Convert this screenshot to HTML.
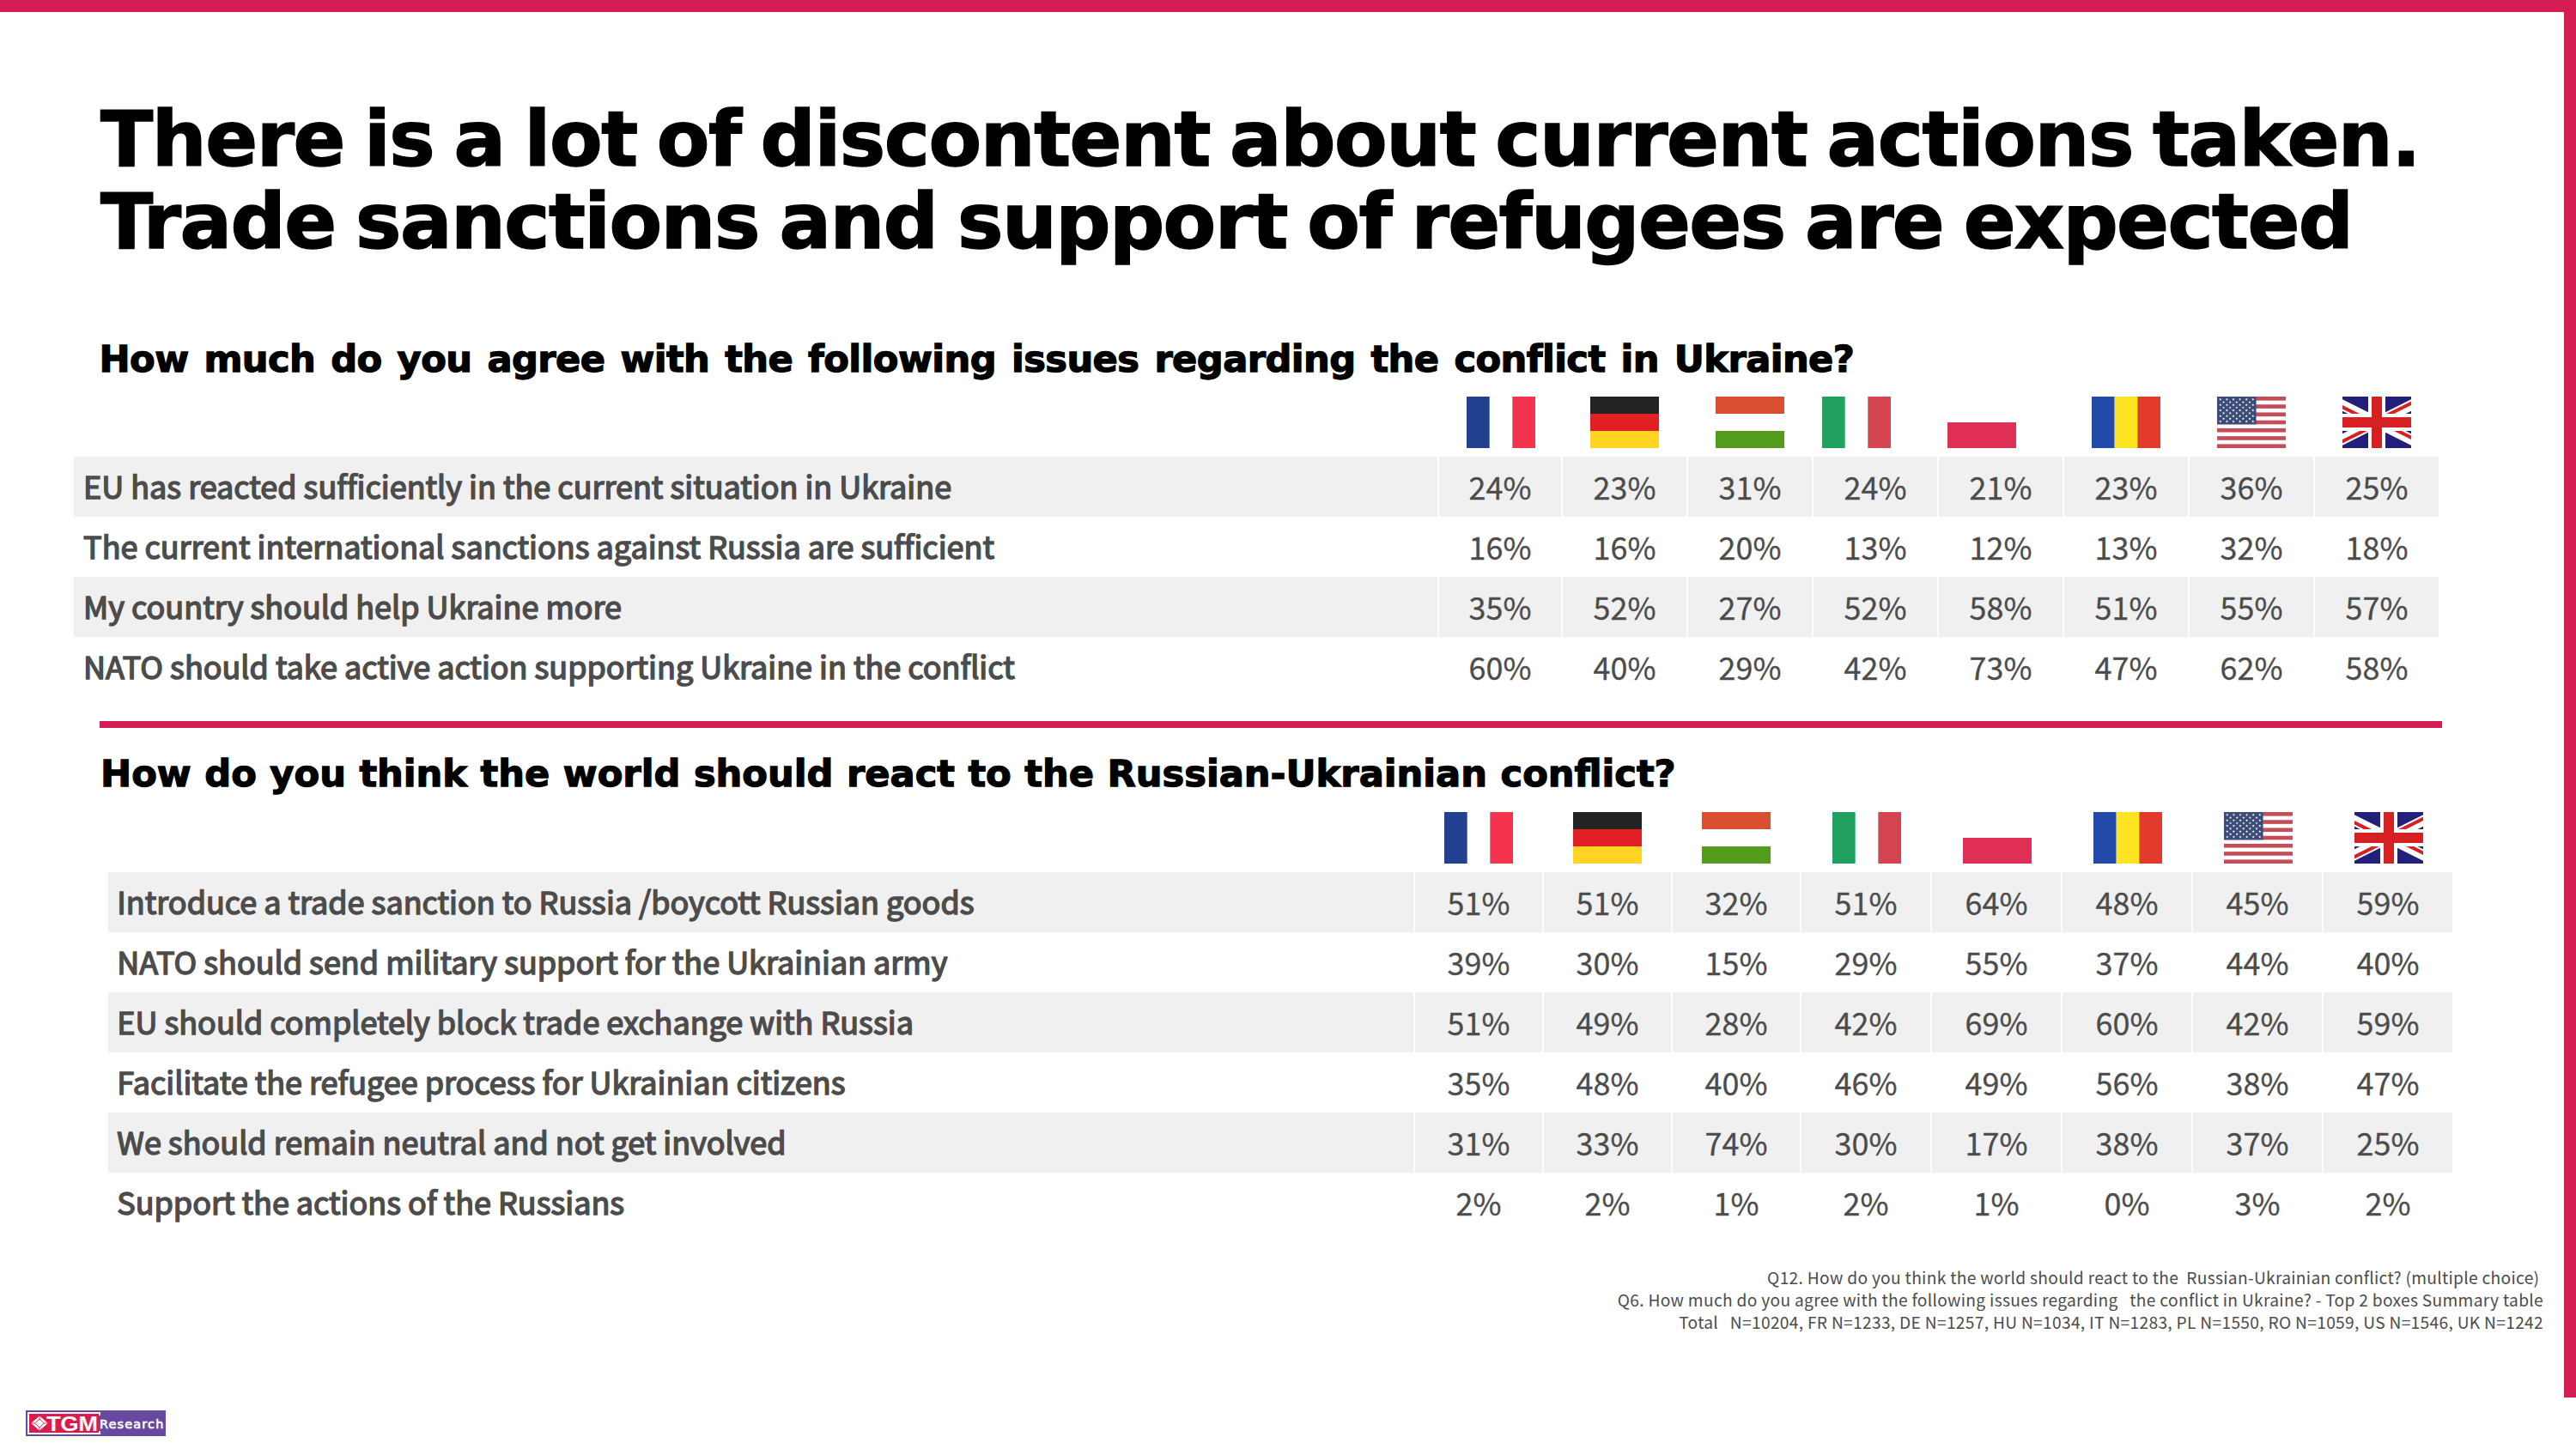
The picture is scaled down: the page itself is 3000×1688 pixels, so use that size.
<!DOCTYPE html>
<html lang="en"><head><meta charset="utf-8"><title>There is a lot of discontent about current actions taken</title>
<style>
html,body{margin:0;padding:0;background:#ffffff}
body{width:3000px;height:1688px;position:relative;overflow:hidden;font-family:"Noto Sans CJK SC","Liberation Sans",sans-serif;color:#4c4c4c}
.bar{position:absolute;background:#d41d52}
.title{position:absolute;left:117px;top:0;margin:0;font-family:"DejaVu Sans","Liberation Sans",sans-serif;font-weight:700;color:#000000;white-space:nowrap}
.t1{font-size:89.8px;line-height:96px;letter-spacing:-3.01px;-webkit-text-stroke:1.5px #000000}
.sub{font-size:43.2px;line-height:56px;letter-spacing:-0.02px;-webkit-text-stroke:1.3px #000000}
.flag{position:absolute;display:block}
.row{position:absolute;left:0;width:3000px;height:70px}
.row>div{position:absolute;top:0;height:70px;line-height:70px;white-space:nowrap}
.row.g>div{background:#f0f0f0}
.lab{font-weight:400;font-size:36px;letter-spacing:-0.02px;-webkit-text-stroke:1.5px #4c4c4c}
.lab span{position:relative;left:11.1px;top:-2.1px}
.num{text-align:center;font-weight:400;font-size:35.9px;-webkit-text-stroke:0.3px #4c4c4c}
.num span{position:relative;top:-1px}
.t2 .lab span{left:10.3px}
.foot{position:absolute;right:38px;top:1474.7px;text-align:right;font-size:19.2px;line-height:26.1px;white-space:pre;letter-spacing:0.3px}

.logo{position:absolute;left:30px;top:1643px;width:163px;height:30px;background:#6849a1;overflow:hidden}
.logo .frame{position:absolute;left:1.7px;top:1.7px;width:85.4px;height:26.6px;background:#ffffff}
.logo .redbox{position:absolute;left:4px;top:3.9px;width:80.8px;height:22.1px;background:#dc1a4b}
.logo .gap{position:absolute;left:84.8px;top:5.6px;width:3px;height:18.6px;background:#6849a1}
.logo .tgm{position:absolute;left:24.2px;top:0.8px;line-height:30px;font-family:"Liberation Sans",sans-serif;font-weight:700;font-size:23px;letter-spacing:-0.3px;transform:scaleX(1.19);transform-origin:0 50%;color:#ffffff;white-space:nowrap}
.logo .res{position:absolute;left:85.9px;top:0.9px;line-height:30px;font-family:"DejaVu Sans","Liberation Sans",sans-serif;font-weight:400;font-size:14.4px;letter-spacing:1.2px;-webkit-text-stroke:0.6px #ffffff;color:#ffffff;white-space:nowrap}
.logo svg{position:absolute;left:4.6px;top:5.45px}
</style></head><body>

<div class="bar" style="left:0;top:0;width:3000px;height:14px"></div>
<div class="bar" style="left:2986px;top:0;width:14px;height:1628px"></div>
<h1 class="title t1" style="top:113.9px"><span style="letter-spacing:-1.463px;word-spacing:-6.73px">There is a lot of discontent about current actions taken.</span><br><span style="letter-spacing:-1.583px;word-spacing:-6.11px">Trade sanctions and support of refugees are expected</span></h1>
<h2 class="title sub" style="top:390px;left:115.5px;letter-spacing:-0.576px;word-spacing:3.5px">How much do you agree with the following issues regarding the conflict in Ukraine?</h2>
<svg class="flag" style="left:1708px;top:462px" width="80" height="60" viewBox="0 0 80 60"><rect width="26.67" height="60" fill="#21418f"/><rect x="53.33" width="26.67" height="60" fill="#f4344c"/></svg>
<svg class="flag" style="left:1852px;top:462px" width="80" height="60" viewBox="0 0 80 60"><rect width="80" height="20" fill="#222222"/><rect y="20" width="80" height="20" fill="#e11f24"/><rect y="40" width="80" height="20" fill="#ffd422"/></svg>
<svg class="flag" style="left:1998px;top:462px" width="80" height="60" viewBox="0 0 80 60"><rect width="80" height="20" fill="#d94f31"/><rect y="40" width="80" height="20" fill="#529b1f"/></svg>
<svg class="flag" style="left:2122px;top:462px" width="80" height="60" viewBox="0 0 80 60"><rect width="26.67" height="60" fill="#20a15f"/><rect x="53.33" width="26.67" height="60" fill="#d54550"/></svg>
<svg class="flag" style="left:2268px;top:462px" width="80" height="60" viewBox="0 0 80 60"><rect y="30" width="80" height="30" fill="#e02f55"/></svg>
<svg class="flag" style="left:2436px;top:462px" width="80" height="60" viewBox="0 0 80 60"><rect width="26.67" height="60" fill="#214aa9"/><rect x="26.67" width="26.67" height="60" fill="#ffe422"/><rect x="53.33" width="26.67" height="60" fill="#e33a2e"/></svg>
<svg class="flag" style="left:2582px;top:462px" width="80" height="60" viewBox="0 0 80 60"><g fill="#c44d59"><rect x="0" y="0.000" width="80" height="4.615"/><rect x="0" y="9.231" width="80" height="4.615"/><rect x="0" y="18.462" width="80" height="4.615"/><rect x="0" y="27.692" width="80" height="4.615"/><rect x="0" y="36.923" width="80" height="4.615"/><rect x="0" y="46.154" width="80" height="4.615"/><rect x="0" y="55.385" width="80" height="4.615"/></g><rect width="45.6" height="32.31" fill="#3c4b78"/><path d="M3.8,1.5L4.2,2.7L5.5,2.7L4.4,3.4L4.8,4.6L3.8,3.9L2.8,4.6L3.2,3.4L2.1,2.7L3.4,2.7ZM11.4,1.5L11.8,2.7L13.1,2.7L12.0,3.4L12.4,4.6L11.4,3.9L10.4,4.6L10.8,3.4L9.7,2.7L11.0,2.7ZM19.0,1.5L19.4,2.7L20.7,2.7L19.6,3.4L20.0,4.6L19.0,3.9L18.0,4.6L18.4,3.4L17.3,2.7L18.6,2.7ZM26.6,1.5L27.0,2.7L28.3,2.7L27.2,3.4L27.6,4.6L26.6,3.9L25.6,4.6L26.0,3.4L24.9,2.7L26.2,2.7ZM34.2,1.5L34.6,2.7L35.9,2.7L34.8,3.4L35.2,4.6L34.2,3.9L33.2,4.6L33.6,3.4L32.5,2.7L33.8,2.7ZM41.8,1.5L42.2,2.7L43.5,2.7L42.4,3.4L42.8,4.6L41.8,3.9L40.8,4.6L41.2,3.4L40.1,2.7L41.4,2.7ZM7.6,4.7L8.0,5.9L9.3,5.9L8.2,6.7L8.6,7.9L7.6,7.1L6.6,7.9L7.0,6.7L5.9,5.9L7.2,5.9ZM15.2,4.7L15.6,5.9L16.9,5.9L15.8,6.7L16.2,7.9L15.2,7.1L14.2,7.9L14.6,6.7L13.5,5.9L14.8,5.9ZM22.8,4.7L23.2,5.9L24.5,5.9L23.4,6.7L23.8,7.9L22.8,7.1L21.8,7.9L22.2,6.7L21.1,5.9L22.4,5.9ZM30.4,4.7L30.8,5.9L32.1,5.9L31.0,6.7L31.4,7.9L30.4,7.1L29.4,7.9L29.8,6.7L28.7,5.9L30.0,5.9ZM38.0,4.7L38.4,5.9L39.7,5.9L38.6,6.7L39.0,7.9L38.0,7.1L37.0,7.9L37.4,6.7L36.3,5.9L37.6,5.9ZM3.8,7.9L4.2,9.2L5.5,9.2L4.4,9.9L4.8,11.1L3.8,10.4L2.8,11.1L3.2,9.9L2.1,9.2L3.4,9.2ZM11.4,7.9L11.8,9.2L13.1,9.2L12.0,9.9L12.4,11.1L11.4,10.4L10.4,11.1L10.8,9.9L9.7,9.2L11.0,9.2ZM19.0,7.9L19.4,9.2L20.7,9.2L19.6,9.9L20.0,11.1L19.0,10.4L18.0,11.1L18.4,9.9L17.3,9.2L18.6,9.2ZM26.6,7.9L27.0,9.2L28.3,9.2L27.2,9.9L27.6,11.1L26.6,10.4L25.6,11.1L26.0,9.9L24.9,9.2L26.2,9.2ZM34.2,7.9L34.6,9.2L35.9,9.2L34.8,9.9L35.2,11.1L34.2,10.4L33.2,11.1L33.6,9.9L32.5,9.2L33.8,9.2ZM41.8,7.9L42.2,9.2L43.5,9.2L42.4,9.9L42.8,11.1L41.8,10.4L40.8,11.1L41.2,9.9L40.1,9.2L41.4,9.2ZM7.6,11.2L8.0,12.4L9.3,12.4L8.2,13.1L8.6,14.3L7.6,13.6L6.6,14.3L7.0,13.1L5.9,12.4L7.2,12.4ZM15.2,11.2L15.6,12.4L16.9,12.4L15.8,13.1L16.2,14.3L15.2,13.6L14.2,14.3L14.6,13.1L13.5,12.4L14.8,12.4ZM22.8,11.2L23.2,12.4L24.5,12.4L23.4,13.1L23.8,14.3L22.8,13.6L21.8,14.3L22.2,13.1L21.1,12.4L22.4,12.4ZM30.4,11.2L30.8,12.4L32.1,12.4L31.0,13.1L31.4,14.3L30.4,13.6L29.4,14.3L29.8,13.1L28.7,12.4L30.0,12.4ZM38.0,11.2L38.4,12.4L39.7,12.4L38.6,13.1L39.0,14.3L38.0,13.6L37.0,14.3L37.4,13.1L36.3,12.4L37.6,12.4ZM3.8,14.4L4.2,15.6L5.5,15.6L4.4,16.4L4.8,17.6L3.8,16.8L2.8,17.6L3.2,16.4L2.1,15.6L3.4,15.6ZM11.4,14.4L11.8,15.6L13.1,15.6L12.0,16.4L12.4,17.6L11.4,16.8L10.4,17.6L10.8,16.4L9.7,15.6L11.0,15.6ZM19.0,14.4L19.4,15.6L20.7,15.6L19.6,16.4L20.0,17.6L19.0,16.8L18.0,17.6L18.4,16.4L17.3,15.6L18.6,15.6ZM26.6,14.4L27.0,15.6L28.3,15.6L27.2,16.4L27.6,17.6L26.6,16.8L25.6,17.6L26.0,16.4L24.9,15.6L26.2,15.6ZM34.2,14.4L34.6,15.6L35.9,15.6L34.8,16.4L35.2,17.6L34.2,16.8L33.2,17.6L33.6,16.4L32.5,15.6L33.8,15.6ZM41.8,14.4L42.2,15.6L43.5,15.6L42.4,16.4L42.8,17.6L41.8,16.8L40.8,17.6L41.2,16.4L40.1,15.6L41.4,15.6ZM7.6,17.6L8.0,18.8L9.3,18.8L8.2,19.6L8.6,20.8L7.6,20.1L6.6,20.8L7.0,19.6L5.9,18.8L7.2,18.8ZM15.2,17.6L15.6,18.8L16.9,18.8L15.8,19.6L16.2,20.8L15.2,20.1L14.2,20.8L14.6,19.6L13.5,18.8L14.8,18.8ZM22.8,17.6L23.2,18.8L24.5,18.8L23.4,19.6L23.8,20.8L22.8,20.1L21.8,20.8L22.2,19.6L21.1,18.8L22.4,18.8ZM30.4,17.6L30.8,18.8L32.1,18.8L31.0,19.6L31.4,20.8L30.4,20.1L29.4,20.8L29.8,19.6L28.7,18.8L30.0,18.8ZM38.0,17.6L38.4,18.8L39.7,18.8L38.6,19.6L39.0,20.8L38.0,20.1L37.0,20.8L37.4,19.6L36.3,18.8L37.6,18.8ZM3.8,20.9L4.2,22.1L5.5,22.1L4.4,22.8L4.8,24.0L3.8,23.3L2.8,24.0L3.2,22.8L2.1,22.1L3.4,22.1ZM11.4,20.9L11.8,22.1L13.1,22.1L12.0,22.8L12.4,24.0L11.4,23.3L10.4,24.0L10.8,22.8L9.7,22.1L11.0,22.1ZM19.0,20.9L19.4,22.1L20.7,22.1L19.6,22.8L20.0,24.0L19.0,23.3L18.0,24.0L18.4,22.8L17.3,22.1L18.6,22.1ZM26.6,20.9L27.0,22.1L28.3,22.1L27.2,22.8L27.6,24.0L26.6,23.3L25.6,24.0L26.0,22.8L24.9,22.1L26.2,22.1ZM34.2,20.9L34.6,22.1L35.9,22.1L34.8,22.8L35.2,24.0L34.2,23.3L33.2,24.0L33.6,22.8L32.5,22.1L33.8,22.1ZM41.8,20.9L42.2,22.1L43.5,22.1L42.4,22.8L42.8,24.0L41.8,23.3L40.8,24.0L41.2,22.8L40.1,22.1L41.4,22.1ZM7.6,24.1L8.0,25.3L9.3,25.3L8.2,26.1L8.6,27.3L7.6,26.5L6.6,27.3L7.0,26.1L5.9,25.3L7.2,25.3ZM15.2,24.1L15.6,25.3L16.9,25.3L15.8,26.1L16.2,27.3L15.2,26.5L14.2,27.3L14.6,26.1L13.5,25.3L14.8,25.3ZM22.8,24.1L23.2,25.3L24.5,25.3L23.4,26.1L23.8,27.3L22.8,26.5L21.8,27.3L22.2,26.1L21.1,25.3L22.4,25.3ZM30.4,24.1L30.8,25.3L32.1,25.3L31.0,26.1L31.4,27.3L30.4,26.5L29.4,27.3L29.8,26.1L28.7,25.3L30.0,25.3ZM38.0,24.1L38.4,25.3L39.7,25.3L38.6,26.1L39.0,27.3L38.0,26.5L37.0,27.3L37.4,26.1L36.3,25.3L37.6,25.3ZM3.8,27.3L4.2,28.5L5.5,28.5L4.4,29.3L4.8,30.5L3.8,29.7L2.8,30.5L3.2,29.3L2.1,28.5L3.4,28.5ZM11.4,27.3L11.8,28.5L13.1,28.5L12.0,29.3L12.4,30.5L11.4,29.7L10.4,30.5L10.8,29.3L9.7,28.5L11.0,28.5ZM19.0,27.3L19.4,28.5L20.7,28.5L19.6,29.3L20.0,30.5L19.0,29.7L18.0,30.5L18.4,29.3L17.3,28.5L18.6,28.5ZM26.6,27.3L27.0,28.5L28.3,28.5L27.2,29.3L27.6,30.5L26.6,29.7L25.6,30.5L26.0,29.3L24.9,28.5L26.2,28.5ZM34.2,27.3L34.6,28.5L35.9,28.5L34.8,29.3L35.2,30.5L34.2,29.7L33.2,30.5L33.6,29.3L32.5,28.5L33.8,28.5ZM41.8,27.3L42.2,28.5L43.5,28.5L42.4,29.3L42.8,30.5L41.8,29.7L40.8,30.5L41.2,29.3L40.1,28.5L41.4,28.5Z" fill="#ffffff"/></svg>
<svg class="flag" style="left:2728px;top:462px" width="80" height="60" viewBox="10 0 40 30"><clipPath id="ukt1"><path d="M30,15 h30 v15 z v15 h-30 z h-30 v-15 z v-15 h30 z"/></clipPath><path d="M0,0 v30 h60 v-30 z" fill="#22207a"/><path d="M0,0 L60,30 M60,0 L0,30" stroke="#ffffff" stroke-width="6"/><path d="M0,0 L60,30 M60,0 L0,30" clip-path="url(#ukt1)" stroke="#d62022" stroke-width="4"/><path d="M30,0 v30 M0,15 h60" stroke="#ffffff" stroke-width="10"/><path d="M30,0 v30 M0,15 h60" stroke="#d62022" stroke-width="6"/></svg>
<div class="t1tab">
<div class="row g" style="top:532px">
<div class="lab" style="left:86px;width:1588px"><span>EU has reacted sufficiently in the current situation in Ukraine</span></div>
<div class="num" style="left:1676px;width:142px"><span>24%</span></div>
<div class="num" style="left:1820px;width:144px"><span>23%</span></div>
<div class="num" style="left:1966px;width:144px"><span>31%</span></div>
<div class="num" style="left:2112px;width:144px"><span>24%</span></div>
<div class="num" style="left:2258px;width:144px"><span>21%</span></div>
<div class="num" style="left:2404px;width:144px"><span>23%</span></div>
<div class="num" style="left:2550px;width:144px"><span>36%</span></div>
<div class="num" style="left:2696px;width:144px"><span>25%</span></div>
</div>
<div class="row" style="top:602px">
<div class="lab" style="left:86px;width:1588px"><span>The current international sanctions against Russia are sufficient</span></div>
<div class="num" style="left:1676px;width:142px"><span>16%</span></div>
<div class="num" style="left:1820px;width:144px"><span>16%</span></div>
<div class="num" style="left:1966px;width:144px"><span>20%</span></div>
<div class="num" style="left:2112px;width:144px"><span>13%</span></div>
<div class="num" style="left:2258px;width:144px"><span>12%</span></div>
<div class="num" style="left:2404px;width:144px"><span>13%</span></div>
<div class="num" style="left:2550px;width:144px"><span>32%</span></div>
<div class="num" style="left:2696px;width:144px"><span>18%</span></div>
</div>
<div class="row g" style="top:672px">
<div class="lab" style="left:86px;width:1588px"><span>My country should help Ukraine more</span></div>
<div class="num" style="left:1676px;width:142px"><span>35%</span></div>
<div class="num" style="left:1820px;width:144px"><span>52%</span></div>
<div class="num" style="left:1966px;width:144px"><span>27%</span></div>
<div class="num" style="left:2112px;width:144px"><span>52%</span></div>
<div class="num" style="left:2258px;width:144px"><span>58%</span></div>
<div class="num" style="left:2404px;width:144px"><span>51%</span></div>
<div class="num" style="left:2550px;width:144px"><span>55%</span></div>
<div class="num" style="left:2696px;width:144px"><span>57%</span></div>
</div>
<div class="row" style="top:742px">
<div class="lab" style="left:86px;width:1588px"><span>NATO should take active action supporting Ukraine in the conflict</span></div>
<div class="num" style="left:1676px;width:142px"><span>60%</span></div>
<div class="num" style="left:1820px;width:144px"><span>40%</span></div>
<div class="num" style="left:1966px;width:144px"><span>29%</span></div>
<div class="num" style="left:2112px;width:144px"><span>42%</span></div>
<div class="num" style="left:2258px;width:144px"><span>73%</span></div>
<div class="num" style="left:2404px;width:144px"><span>47%</span></div>
<div class="num" style="left:2550px;width:144px"><span>62%</span></div>
<div class="num" style="left:2696px;width:144px"><span>58%</span></div>
</div>
</div>
<div class="bar" style="left:116px;top:840px;width:2728px;height:8px"></div>
<h2 class="title sub" style="top:873.4px;left:117px;letter-spacing:0px;word-spacing:0.48px">How do you think the world should react to the Russian-Ukrainian conflict?</h2>
<svg class="flag" style="left:1682px;top:946px" width="80" height="60" viewBox="0 0 80 60"><rect width="26.67" height="60" fill="#21418f"/><rect x="53.33" width="26.67" height="60" fill="#f4344c"/></svg>
<svg class="flag" style="left:1832px;top:946px" width="80" height="60" viewBox="0 0 80 60"><rect width="80" height="20" fill="#222222"/><rect y="20" width="80" height="20" fill="#e11f24"/><rect y="40" width="80" height="20" fill="#ffd422"/></svg>
<svg class="flag" style="left:1982px;top:946px" width="80" height="60" viewBox="0 0 80 60"><rect width="80" height="20" fill="#d94f31"/><rect y="40" width="80" height="20" fill="#529b1f"/></svg>
<svg class="flag" style="left:2134px;top:946px" width="80" height="60" viewBox="0 0 80 60"><rect width="26.67" height="60" fill="#20a15f"/><rect x="53.33" width="26.67" height="60" fill="#d54550"/></svg>
<svg class="flag" style="left:2286px;top:946px" width="80" height="60" viewBox="0 0 80 60"><rect y="30" width="80" height="30" fill="#e02f55"/></svg>
<svg class="flag" style="left:2438px;top:946px" width="80" height="60" viewBox="0 0 80 60"><rect width="26.67" height="60" fill="#214aa9"/><rect x="26.67" width="26.67" height="60" fill="#ffe422"/><rect x="53.33" width="26.67" height="60" fill="#e33a2e"/></svg>
<svg class="flag" style="left:2590px;top:946px" width="80" height="60" viewBox="0 0 80 60"><g fill="#c44d59"><rect x="0" y="0.000" width="80" height="4.615"/><rect x="0" y="9.231" width="80" height="4.615"/><rect x="0" y="18.462" width="80" height="4.615"/><rect x="0" y="27.692" width="80" height="4.615"/><rect x="0" y="36.923" width="80" height="4.615"/><rect x="0" y="46.154" width="80" height="4.615"/><rect x="0" y="55.385" width="80" height="4.615"/></g><rect width="45.6" height="32.31" fill="#3c4b78"/><path d="M3.8,1.5L4.2,2.7L5.5,2.7L4.4,3.4L4.8,4.6L3.8,3.9L2.8,4.6L3.2,3.4L2.1,2.7L3.4,2.7ZM11.4,1.5L11.8,2.7L13.1,2.7L12.0,3.4L12.4,4.6L11.4,3.9L10.4,4.6L10.8,3.4L9.7,2.7L11.0,2.7ZM19.0,1.5L19.4,2.7L20.7,2.7L19.6,3.4L20.0,4.6L19.0,3.9L18.0,4.6L18.4,3.4L17.3,2.7L18.6,2.7ZM26.6,1.5L27.0,2.7L28.3,2.7L27.2,3.4L27.6,4.6L26.6,3.9L25.6,4.6L26.0,3.4L24.9,2.7L26.2,2.7ZM34.2,1.5L34.6,2.7L35.9,2.7L34.8,3.4L35.2,4.6L34.2,3.9L33.2,4.6L33.6,3.4L32.5,2.7L33.8,2.7ZM41.8,1.5L42.2,2.7L43.5,2.7L42.4,3.4L42.8,4.6L41.8,3.9L40.8,4.6L41.2,3.4L40.1,2.7L41.4,2.7ZM7.6,4.7L8.0,5.9L9.3,5.9L8.2,6.7L8.6,7.9L7.6,7.1L6.6,7.9L7.0,6.7L5.9,5.9L7.2,5.9ZM15.2,4.7L15.6,5.9L16.9,5.9L15.8,6.7L16.2,7.9L15.2,7.1L14.2,7.9L14.6,6.7L13.5,5.9L14.8,5.9ZM22.8,4.7L23.2,5.9L24.5,5.9L23.4,6.7L23.8,7.9L22.8,7.1L21.8,7.9L22.2,6.7L21.1,5.9L22.4,5.9ZM30.4,4.7L30.8,5.9L32.1,5.9L31.0,6.7L31.4,7.9L30.4,7.1L29.4,7.9L29.8,6.7L28.7,5.9L30.0,5.9ZM38.0,4.7L38.4,5.9L39.7,5.9L38.6,6.7L39.0,7.9L38.0,7.1L37.0,7.9L37.4,6.7L36.3,5.9L37.6,5.9ZM3.8,7.9L4.2,9.2L5.5,9.2L4.4,9.9L4.8,11.1L3.8,10.4L2.8,11.1L3.2,9.9L2.1,9.2L3.4,9.2ZM11.4,7.9L11.8,9.2L13.1,9.2L12.0,9.9L12.4,11.1L11.4,10.4L10.4,11.1L10.8,9.9L9.7,9.2L11.0,9.2ZM19.0,7.9L19.4,9.2L20.7,9.2L19.6,9.9L20.0,11.1L19.0,10.4L18.0,11.1L18.4,9.9L17.3,9.2L18.6,9.2ZM26.6,7.9L27.0,9.2L28.3,9.2L27.2,9.9L27.6,11.1L26.6,10.4L25.6,11.1L26.0,9.9L24.9,9.2L26.2,9.2ZM34.2,7.9L34.6,9.2L35.9,9.2L34.8,9.9L35.2,11.1L34.2,10.4L33.2,11.1L33.6,9.9L32.5,9.2L33.8,9.2ZM41.8,7.9L42.2,9.2L43.5,9.2L42.4,9.9L42.8,11.1L41.8,10.4L40.8,11.1L41.2,9.9L40.1,9.2L41.4,9.2ZM7.6,11.2L8.0,12.4L9.3,12.4L8.2,13.1L8.6,14.3L7.6,13.6L6.6,14.3L7.0,13.1L5.9,12.4L7.2,12.4ZM15.2,11.2L15.6,12.4L16.9,12.4L15.8,13.1L16.2,14.3L15.2,13.6L14.2,14.3L14.6,13.1L13.5,12.4L14.8,12.4ZM22.8,11.2L23.2,12.4L24.5,12.4L23.4,13.1L23.8,14.3L22.8,13.6L21.8,14.3L22.2,13.1L21.1,12.4L22.4,12.4ZM30.4,11.2L30.8,12.4L32.1,12.4L31.0,13.1L31.4,14.3L30.4,13.6L29.4,14.3L29.8,13.1L28.7,12.4L30.0,12.4ZM38.0,11.2L38.4,12.4L39.7,12.4L38.6,13.1L39.0,14.3L38.0,13.6L37.0,14.3L37.4,13.1L36.3,12.4L37.6,12.4ZM3.8,14.4L4.2,15.6L5.5,15.6L4.4,16.4L4.8,17.6L3.8,16.8L2.8,17.6L3.2,16.4L2.1,15.6L3.4,15.6ZM11.4,14.4L11.8,15.6L13.1,15.6L12.0,16.4L12.4,17.6L11.4,16.8L10.4,17.6L10.8,16.4L9.7,15.6L11.0,15.6ZM19.0,14.4L19.4,15.6L20.7,15.6L19.6,16.4L20.0,17.6L19.0,16.8L18.0,17.6L18.4,16.4L17.3,15.6L18.6,15.6ZM26.6,14.4L27.0,15.6L28.3,15.6L27.2,16.4L27.6,17.6L26.6,16.8L25.6,17.6L26.0,16.4L24.9,15.6L26.2,15.6ZM34.2,14.4L34.6,15.6L35.9,15.6L34.8,16.4L35.2,17.6L34.2,16.8L33.2,17.6L33.6,16.4L32.5,15.6L33.8,15.6ZM41.8,14.4L42.2,15.6L43.5,15.6L42.4,16.4L42.8,17.6L41.8,16.8L40.8,17.6L41.2,16.4L40.1,15.6L41.4,15.6ZM7.6,17.6L8.0,18.8L9.3,18.8L8.2,19.6L8.6,20.8L7.6,20.1L6.6,20.8L7.0,19.6L5.9,18.8L7.2,18.8ZM15.2,17.6L15.6,18.8L16.9,18.8L15.8,19.6L16.2,20.8L15.2,20.1L14.2,20.8L14.6,19.6L13.5,18.8L14.8,18.8ZM22.8,17.6L23.2,18.8L24.5,18.8L23.4,19.6L23.8,20.8L22.8,20.1L21.8,20.8L22.2,19.6L21.1,18.8L22.4,18.8ZM30.4,17.6L30.8,18.8L32.1,18.8L31.0,19.6L31.4,20.8L30.4,20.1L29.4,20.8L29.8,19.6L28.7,18.8L30.0,18.8ZM38.0,17.6L38.4,18.8L39.7,18.8L38.6,19.6L39.0,20.8L38.0,20.1L37.0,20.8L37.4,19.6L36.3,18.8L37.6,18.8ZM3.8,20.9L4.2,22.1L5.5,22.1L4.4,22.8L4.8,24.0L3.8,23.3L2.8,24.0L3.2,22.8L2.1,22.1L3.4,22.1ZM11.4,20.9L11.8,22.1L13.1,22.1L12.0,22.8L12.4,24.0L11.4,23.3L10.4,24.0L10.8,22.8L9.7,22.1L11.0,22.1ZM19.0,20.9L19.4,22.1L20.7,22.1L19.6,22.8L20.0,24.0L19.0,23.3L18.0,24.0L18.4,22.8L17.3,22.1L18.6,22.1ZM26.6,20.9L27.0,22.1L28.3,22.1L27.2,22.8L27.6,24.0L26.6,23.3L25.6,24.0L26.0,22.8L24.9,22.1L26.2,22.1ZM34.2,20.9L34.6,22.1L35.9,22.1L34.8,22.8L35.2,24.0L34.2,23.3L33.2,24.0L33.6,22.8L32.5,22.1L33.8,22.1ZM41.8,20.9L42.2,22.1L43.5,22.1L42.4,22.8L42.8,24.0L41.8,23.3L40.8,24.0L41.2,22.8L40.1,22.1L41.4,22.1ZM7.6,24.1L8.0,25.3L9.3,25.3L8.2,26.1L8.6,27.3L7.6,26.5L6.6,27.3L7.0,26.1L5.9,25.3L7.2,25.3ZM15.2,24.1L15.6,25.3L16.9,25.3L15.8,26.1L16.2,27.3L15.2,26.5L14.2,27.3L14.6,26.1L13.5,25.3L14.8,25.3ZM22.8,24.1L23.2,25.3L24.5,25.3L23.4,26.1L23.8,27.3L22.8,26.5L21.8,27.3L22.2,26.1L21.1,25.3L22.4,25.3ZM30.4,24.1L30.8,25.3L32.1,25.3L31.0,26.1L31.4,27.3L30.4,26.5L29.4,27.3L29.8,26.1L28.7,25.3L30.0,25.3ZM38.0,24.1L38.4,25.3L39.7,25.3L38.6,26.1L39.0,27.3L38.0,26.5L37.0,27.3L37.4,26.1L36.3,25.3L37.6,25.3ZM3.8,27.3L4.2,28.5L5.5,28.5L4.4,29.3L4.8,30.5L3.8,29.7L2.8,30.5L3.2,29.3L2.1,28.5L3.4,28.5ZM11.4,27.3L11.8,28.5L13.1,28.5L12.0,29.3L12.4,30.5L11.4,29.7L10.4,30.5L10.8,29.3L9.7,28.5L11.0,28.5ZM19.0,27.3L19.4,28.5L20.7,28.5L19.6,29.3L20.0,30.5L19.0,29.7L18.0,30.5L18.4,29.3L17.3,28.5L18.6,28.5ZM26.6,27.3L27.0,28.5L28.3,28.5L27.2,29.3L27.6,30.5L26.6,29.7L25.6,30.5L26.0,29.3L24.9,28.5L26.2,28.5ZM34.2,27.3L34.6,28.5L35.9,28.5L34.8,29.3L35.2,30.5L34.2,29.7L33.2,30.5L33.6,29.3L32.5,28.5L33.8,28.5ZM41.8,27.3L42.2,28.5L43.5,28.5L42.4,29.3L42.8,30.5L41.8,29.7L40.8,30.5L41.2,29.3L40.1,28.5L41.4,28.5Z" fill="#ffffff"/></svg>
<svg class="flag" style="left:2742px;top:946px" width="80" height="60" viewBox="10 0 40 30"><clipPath id="ukt2"><path d="M30,15 h30 v15 z v15 h-30 z h-30 v-15 z v-15 h30 z"/></clipPath><path d="M0,0 v30 h60 v-30 z" fill="#22207a"/><path d="M0,0 L60,30 M60,0 L0,30" stroke="#ffffff" stroke-width="6"/><path d="M0,0 L60,30 M60,0 L0,30" clip-path="url(#ukt2)" stroke="#d62022" stroke-width="4"/><path d="M30,0 v30 M0,15 h60" stroke="#ffffff" stroke-width="10"/><path d="M30,0 v30 M0,15 h60" stroke="#d62022" stroke-width="6"/></svg>
<div class="t2">
<div class="row g" style="top:1016px">
<div class="lab" style="left:126px;width:1520px"><span>Introduce a trade sanction to Russia /boycott Russian goods</span></div>
<div class="num" style="left:1648px;width:148px"><span>51%</span></div>
<div class="num" style="left:1798px;width:148px"><span>51%</span></div>
<div class="num" style="left:1948px;width:148px"><span>32%</span></div>
<div class="num" style="left:2098px;width:150px"><span>51%</span></div>
<div class="num" style="left:2250px;width:150px"><span>64%</span></div>
<div class="num" style="left:2402px;width:150px"><span>48%</span></div>
<div class="num" style="left:2554px;width:150px"><span>45%</span></div>
<div class="num" style="left:2706px;width:150px"><span>59%</span></div>
</div>
<div class="row" style="top:1086px">
<div class="lab" style="left:126px;width:1520px"><span>NATO should send military support for the Ukrainian army</span></div>
<div class="num" style="left:1648px;width:148px"><span>39%</span></div>
<div class="num" style="left:1798px;width:148px"><span>30%</span></div>
<div class="num" style="left:1948px;width:148px"><span>15%</span></div>
<div class="num" style="left:2098px;width:150px"><span>29%</span></div>
<div class="num" style="left:2250px;width:150px"><span>55%</span></div>
<div class="num" style="left:2402px;width:150px"><span>37%</span></div>
<div class="num" style="left:2554px;width:150px"><span>44%</span></div>
<div class="num" style="left:2706px;width:150px"><span>40%</span></div>
</div>
<div class="row g" style="top:1156px">
<div class="lab" style="left:126px;width:1520px"><span>EU should completely block trade exchange with Russia</span></div>
<div class="num" style="left:1648px;width:148px"><span>51%</span></div>
<div class="num" style="left:1798px;width:148px"><span>49%</span></div>
<div class="num" style="left:1948px;width:148px"><span>28%</span></div>
<div class="num" style="left:2098px;width:150px"><span>42%</span></div>
<div class="num" style="left:2250px;width:150px"><span>69%</span></div>
<div class="num" style="left:2402px;width:150px"><span>60%</span></div>
<div class="num" style="left:2554px;width:150px"><span>42%</span></div>
<div class="num" style="left:2706px;width:150px"><span>59%</span></div>
</div>
<div class="row" style="top:1226px">
<div class="lab" style="left:126px;width:1520px"><span>Facilitate the refugee process for Ukrainian citizens</span></div>
<div class="num" style="left:1648px;width:148px"><span>35%</span></div>
<div class="num" style="left:1798px;width:148px"><span>48%</span></div>
<div class="num" style="left:1948px;width:148px"><span>40%</span></div>
<div class="num" style="left:2098px;width:150px"><span>46%</span></div>
<div class="num" style="left:2250px;width:150px"><span>49%</span></div>
<div class="num" style="left:2402px;width:150px"><span>56%</span></div>
<div class="num" style="left:2554px;width:150px"><span>38%</span></div>
<div class="num" style="left:2706px;width:150px"><span>47%</span></div>
</div>
<div class="row g" style="top:1296px">
<div class="lab" style="left:126px;width:1520px"><span>We should remain neutral and not get involved</span></div>
<div class="num" style="left:1648px;width:148px"><span>31%</span></div>
<div class="num" style="left:1798px;width:148px"><span>33%</span></div>
<div class="num" style="left:1948px;width:148px"><span>74%</span></div>
<div class="num" style="left:2098px;width:150px"><span>30%</span></div>
<div class="num" style="left:2250px;width:150px"><span>17%</span></div>
<div class="num" style="left:2402px;width:150px"><span>38%</span></div>
<div class="num" style="left:2554px;width:150px"><span>37%</span></div>
<div class="num" style="left:2706px;width:150px"><span>25%</span></div>
</div>
<div class="row" style="top:1366px">
<div class="lab" style="left:126px;width:1520px"><span>Support the actions of the Russians</span></div>
<div class="num" style="left:1648px;width:148px"><span>2%</span></div>
<div class="num" style="left:1798px;width:148px"><span>2%</span></div>
<div class="num" style="left:1948px;width:148px"><span>1%</span></div>
<div class="num" style="left:2098px;width:150px"><span>2%</span></div>
<div class="num" style="left:2250px;width:150px"><span>1%</span></div>
<div class="num" style="left:2402px;width:150px"><span>0%</span></div>
<div class="num" style="left:2554px;width:150px"><span>3%</span></div>
<div class="num" style="left:2706px;width:150px"><span>2%</span></div>
</div>
</div>
<div class="foot">Q12. How do you think the world should react to the  Russian-Ukrainian conflict? (multiple choice) 
Q6. How much do you agree with the following issues regarding   the conflict in Ukraine? - Top 2 boxes Summary table
Total   N=10204, FR N=1233, DE N=1257, HU N=1034, IT N=1283, PL N=1550, RO N=1059, US N=1546, UK N=1242</div>
<div class="logo"><div class="frame"></div><div class="redbox"></div><div class="gap"></div>
<svg width="22" height="20" viewBox="-11 -10 22 20"><polygon fill="#ffffff" points="-9.8,0 0,-8.45 9.8,0 0,8.45"/><path stroke="#dc1a4b" stroke-width="0.85" fill="none" d="M-5.25,0 L0,-4.95 L5.25,0 L0,4.95Z M-10,0H-5.25 M5.25,0H10 M0,-9V-4.95 M0,4.95V9"/></svg>
<span class="tgm">TGM</span><span class="res">Research</span></div>
</body></html>
